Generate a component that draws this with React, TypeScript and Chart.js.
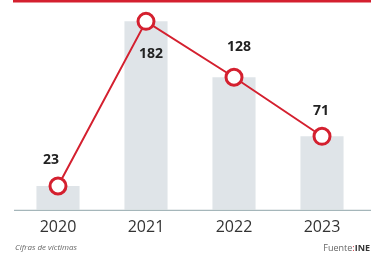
import React, { useEffect, useRef } from "react";
import { Chart, registerables } from "chart.js";

Chart.register(...registerables);

const categories = ["2020", "2021", "2022", "2023"];
const victims = [23, 182, 128, 71];
const labelOffsets = [
  [-7, -26],
  [5, 33],
  [5, -30],
  [-1, -25],
];

const RED = "#d4202f";

const decorPlugin = {
  id: "decor",
  beforeDraw(chart: any) {
    const { ctx } = chart;
    ctx.save();
    ctx.fillStyle = "#ffffff";
    ctx.fillRect(0, 0, chart.width, chart.height);
    ctx.fillStyle = RED;
    ctx.fillRect(13, 0, 358, 2.5);
    ctx.restore();
  },
  afterDatasetsDraw(chart: any) {
    const { ctx } = chart;
    const bottom = chart.chartArea.bottom;
    ctx.save();
    ctx.strokeStyle = "#8fa4a9";
    ctx.lineWidth = 1;
    ctx.beginPath();
    ctx.moveTo(14, bottom + 0.5);
    ctx.lineTo(371, bottom + 0.5);
    ctx.stroke();

    const meta = chart.getDatasetMeta(1);
    ctx.font = "bold 14px 'Open Sans', sans-serif";
    ctx.fillStyle = "#222";
    ctx.textAlign = "center";
    ctx.textBaseline = "middle";
    meta.data.forEach((pt: any, i: number) => {
      const [dx, dy] = labelOffsets[i];
      ctx.fillText(String(victims[i]), pt.x + dx, pt.y + dy);
    });

    ctx.font = "italic 8px 'Open Sans', sans-serif";
    ctx.fillStyle = "#666";
    ctx.textAlign = "left";
    ctx.textBaseline = "middle";
    ctx.fillText("Cifras de víctimas", 15, 248);

    ctx.textAlign = "left";
    ctx.font = "bold 9px 'Open Sans', sans-serif";
    const ineW = ctx.measureText("INE").width;
    ctx.font = "9px 'Open Sans', sans-serif";
    const fW = ctx.measureText("Fuente").width;
    const cW = ctx.measureText(":").width;
    let x = 370 - ineW - cW - fW;
    ctx.fillStyle = "#666";
    ctx.fillText("Fuente", x, 248);
    x += fW;
    ctx.fillStyle = RED;
    ctx.fillText(":", x, 248);
    x += cW;
    ctx.font = "bold 9px 'Open Sans', sans-serif";
    ctx.fillStyle = "#333";
    ctx.fillText("INE", x, 248);
    ctx.restore();
  },
};

export default function App() {
  const ref = useRef<HTMLCanvasElement>(null);
  useEffect(() => {
    document.body.style.margin = "0";
    const chart = new Chart(ref.current!, {
      type: "bar",
      data: {
        labels: categories,
        datasets: [
          {
            type: "bar",
            data: victims,
            backgroundColor: "#dfe4e8",
            categoryPercentage: 1,
            barPercentage: 0.49,
            order: 2,
          },
          {
            type: "line",
            data: victims,
            borderColor: RED,
            borderWidth: 2,
            pointRadius: 8,
            pointBorderWidth: 3,
            pointBackgroundColor: "#ffffff",
            pointBorderColor: RED,
            order: 1,
          } as any,
        ],
      },
      options: {
        animation: false,
        responsive: false,
        maintainAspectRatio: false,
        layout: { padding: { left: 14, right: 14, top: 10, bottom: 9 } },
        plugins: { legend: { display: false }, tooltip: { enabled: false } },
        scales: {
          x: {
            grid: { display: false, drawTicks: false },
            border: { display: false },
            ticks: {
              color: "#333",
              font: { family: "'Open Sans', sans-serif", size: 16 },
              padding: 8,
            },
          },
          y: { display: false, min: 0, max: 192 },
        },
      },
      plugins: [decorPlugin],
    });
    return () => chart.destroy();
  }, []);
  return (
    <div style={{ width: 380, height: 254 }}>
      <canvas ref={ref} width={380} height={254} style={{ display: "block" }} />
    </div>
  );
}
